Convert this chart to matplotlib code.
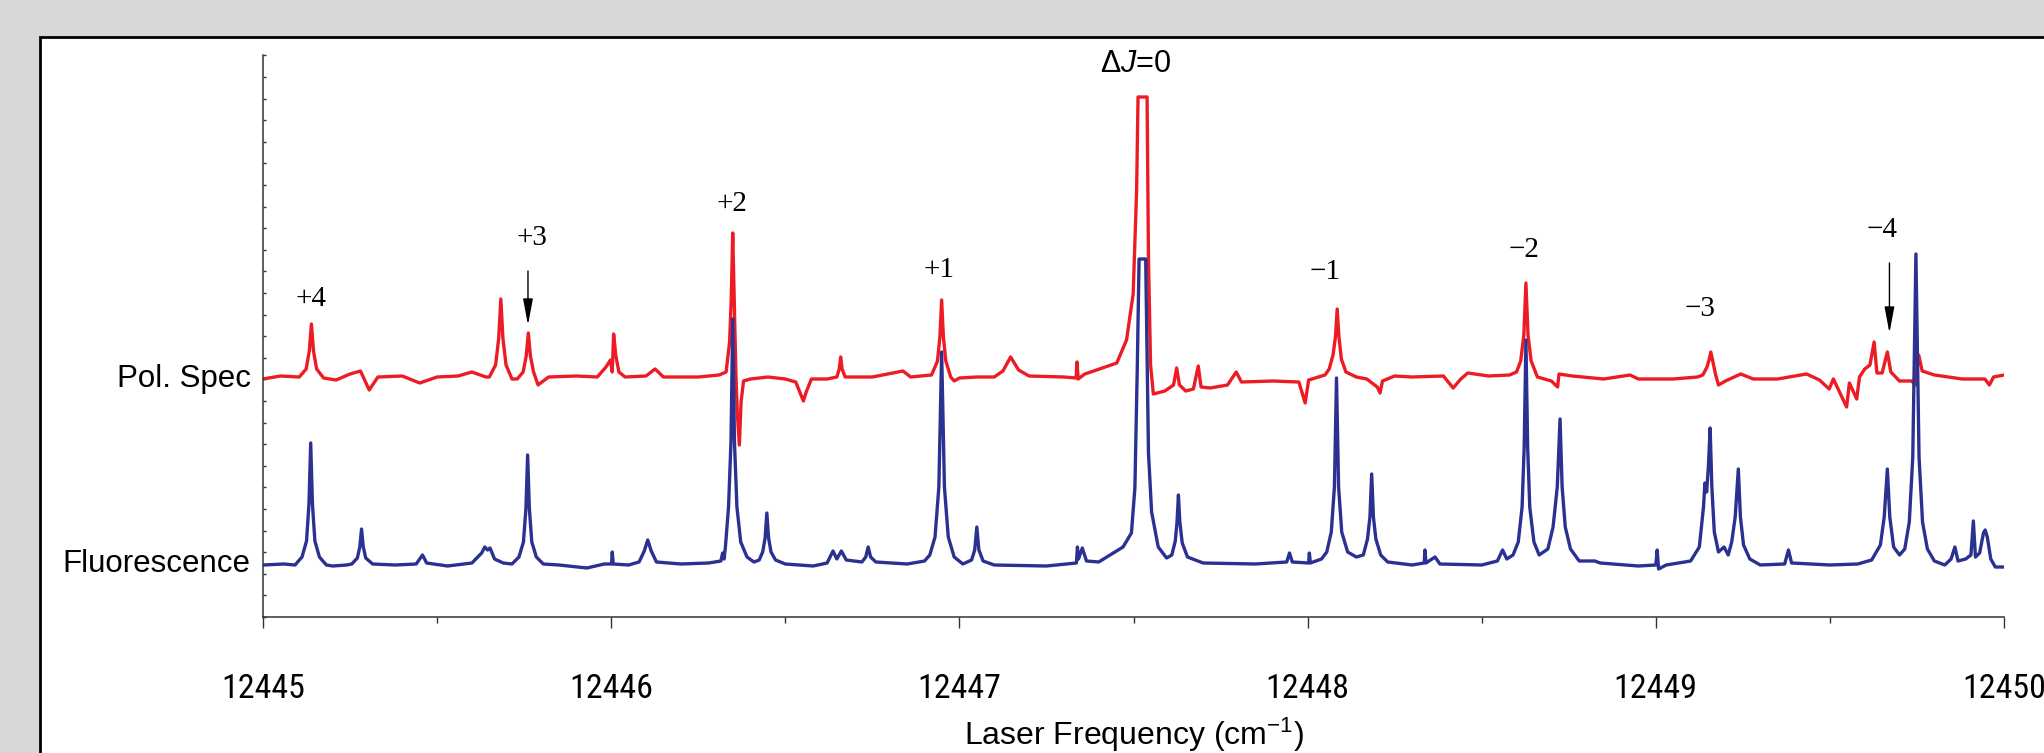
import numpy as np
import matplotlib.pyplot as plt
from matplotlib import font_manager
from matplotlib.patches import Rectangle
from matplotlib.ticker import MultipleLocator, FixedLocator

# traces: (laser frequency, signal in arbitrary units)
pol_points = [
    (12445.000, 238), (12445.050, 241), (12445.100, 240), (12445.104, 240),
    (12445.124, 248), (12445.133, 266), (12445.139, 293), (12445.145, 266),
    (12445.154, 248), (12445.174, 239), (12445.210, 237), (12445.250, 243),
    (12445.280, 246), (12445.305, 227), (12445.330, 240), (12445.400, 241),
    (12445.450, 234), (12445.500, 240), (12445.560, 241), (12445.600, 245),
    (12445.640, 240), (12445.650, 240), (12445.668, 252), (12445.677, 279),
    (12445.683, 318), (12445.689, 279), (12445.698, 252), (12445.715, 238),
    (12445.730, 238), (12445.747, 245), (12445.756, 261), (12445.762, 284),
    (12445.768, 261), (12445.777, 245), (12445.790, 232), (12445.820, 240),
    (12445.900, 241), (12445.960, 240), (12445.985, 250), (12445.998, 257),
    (12446.003, 245), (12446.007, 283), (12446.013, 262), (12446.022, 245),
    (12446.040, 240), (12446.100, 241), (12446.126, 248), (12446.150, 240),
    (12446.250, 240), (12446.310, 242), (12446.330, 245), (12446.340, 275),
    (12446.345, 320), (12446.349, 384), (12446.353, 320), (12446.358, 245),
    (12446.362, 205), (12446.368, 172), (12446.373, 215), (12446.380, 236),
    (12446.400, 238), (12446.450, 240), (12446.500, 238), (12446.530, 235),
    (12446.545, 222), (12446.552, 216), (12446.560, 225), (12446.575, 238),
    (12446.620, 238), (12446.648, 240), (12446.655, 248), (12446.659, 260),
    (12446.663, 248), (12446.672, 240), (12446.750, 240), (12446.838, 246),
    (12446.860, 240), (12446.920, 242), (12446.925, 246), (12446.937, 256),
    (12446.944, 280), (12446.949, 317), (12446.954, 280), (12446.961, 256),
    (12446.975, 240), (12446.985, 236), (12447.000, 239), (12447.050, 240),
    (12447.100, 240), (12447.125, 246), (12447.147, 260), (12447.170, 247),
    (12447.200, 241), (12447.300, 240), (12447.335, 239), (12447.338, 255),
    (12447.341, 238), (12447.360, 243), (12447.394, 247), (12447.452, 254),
    (12447.480, 277), (12447.499, 323), (12447.509, 427), (12447.513, 520),
    (12447.539, 520), (12447.543, 358), (12447.549, 252), (12447.557, 223),
    (12447.590, 226), (12447.615, 232), (12447.624, 249), (12447.632, 232),
    (12447.650, 226), (12447.672, 228), (12447.686, 251), (12447.694, 230),
    (12447.720, 229), (12447.770, 232), (12447.795, 245), (12447.810, 235),
    (12447.900, 236), (12447.975, 235), (12447.993, 214), (12448.003, 237),
    (12448.050, 242), (12448.062, 248), (12448.073, 262), (12448.080, 280),
    (12448.085, 308), (12448.090, 280), (12448.097, 258), (12448.110, 245),
    (12448.140, 240), (12448.170, 238), (12448.200, 230), (12448.208, 224),
    (12448.215, 236), (12448.250, 241), (12448.300, 240), (12448.390, 241),
    (12448.418, 229), (12448.440, 238), (12448.460, 244), (12448.520, 241),
    (12448.580, 242), (12448.600, 245), (12448.612, 256), (12448.621, 282),
    (12448.627, 334), (12448.633, 282), (12448.642, 256), (12448.660, 240),
    (12448.700, 236), (12448.718, 230), (12448.722, 243), (12448.760, 241),
    (12448.850, 238), (12448.926, 242), (12448.950, 238), (12449.050, 238),
    (12449.120, 240), (12449.135, 242), (12449.147, 250), (12449.153, 257),
    (12449.158, 265), (12449.164, 255), (12449.172, 242), (12449.180, 232),
    (12449.200, 236), (12449.244, 243), (12449.280, 238), (12449.350, 238),
    (12449.433, 243), (12449.470, 237), (12449.498, 228), (12449.510, 238),
    (12449.548, 210), (12449.556, 234), (12449.577, 218), (12449.585, 240),
    (12449.600, 248), (12449.615, 252), (12449.627, 275), (12449.635, 244),
    (12449.650, 244), (12449.665, 265), (12449.675, 245), (12449.700, 236),
    (12449.735, 236), (12449.745, 232), (12449.755, 262), (12449.765, 246),
    (12449.800, 242), (12449.880, 238), (12449.945, 238), (12449.958, 232),
    (12449.970, 240), (12450.000, 242),
]

flu_points = [
    (12445.000, 52), (12445.060, 53), (12445.092, 52), (12445.112, 60),
    (12445.125, 76), (12445.132, 113), (12445.137, 174), (12445.142, 113),
    (12445.149, 76), (12445.162, 60), (12445.182, 52), (12445.200, 51),
    (12445.240, 52), (12445.255, 53), (12445.271, 59), (12445.278, 70),
    (12445.283, 88), (12445.288, 70), (12445.295, 59), (12445.315, 53),
    (12445.380, 52), (12445.440, 53), (12445.458, 62), (12445.470, 54),
    (12445.530, 51), (12445.600, 54), (12445.628, 64), (12445.637, 70),
    (12445.645, 67), (12445.652, 69), (12445.665, 58), (12445.690, 54),
    (12445.715, 53), (12445.735, 60), (12445.748, 75), (12445.755, 108),
    (12445.760, 162), (12445.765, 108), (12445.772, 75), (12445.785, 60),
    (12445.805, 53), (12445.850, 52), (12445.930, 49), (12445.980, 53),
    (12446.001, 53), (12446.003, 65), (12446.006, 53), (12446.050, 52),
    (12446.080, 55), (12446.095, 66), (12446.105, 77), (12446.115, 66),
    (12446.130, 55), (12446.200, 53), (12446.280, 54), (12446.315, 56),
    (12446.320, 64), (12446.324, 58), (12446.328, 70), (12446.337, 110),
    (12446.344, 175), (12446.349, 298), (12446.354, 175), (12446.361, 110),
    (12446.372, 75), (12446.390, 60), (12446.410, 55), (12446.425, 57),
    (12446.435, 65), (12446.442, 79), (12446.447, 104), (12446.452, 79),
    (12446.459, 65), (12446.472, 57), (12446.500, 53), (12446.580, 51),
    (12446.620, 54), (12446.637, 66), (12446.648, 58), (12446.661, 66),
    (12446.675, 57), (12446.720, 55), (12446.731, 60), (12446.738, 70),
    (12446.745, 60), (12446.760, 55), (12446.850, 53), (12446.900, 56),
    (12446.915, 62), (12446.930, 80), (12446.941, 130), (12446.949, 265),
    (12446.957, 130), (12446.968, 80), (12446.985, 60), (12447.010, 53),
    (12447.035, 57), (12447.044, 67), (12447.050, 90), (12447.056, 67),
    (12447.068, 56), (12447.100, 52), (12447.250, 51), (12447.336, 54),
    (12447.339, 70), (12447.342, 58), (12447.353, 69), (12447.365, 56),
    (12447.400, 55), (12447.470, 70), (12447.494, 84), (12447.504, 129),
    (12447.511, 252), (12447.516, 358), (12447.535, 358), (12447.538, 287),
    (12447.543, 164), (12447.552, 105), (12447.571, 70), (12447.595, 59),
    (12447.610, 62), (12447.620, 76), (12447.625, 95), (12447.629, 122),
    (12447.633, 95), (12447.640, 74), (12447.655, 60), (12447.700, 54),
    (12447.850, 53), (12447.940, 55), (12447.948, 64), (12447.956, 55),
    (12448.003, 54), (12448.005, 64), (12448.008, 54), (12448.040, 58),
    (12448.055, 65), (12448.068, 85), (12448.077, 130), (12448.083, 239),
    (12448.089, 130), (12448.098, 85), (12448.115, 65), (12448.140, 60),
    (12448.160, 62), (12448.172, 78), (12448.179, 100), (12448.184, 143),
    (12448.189, 100), (12448.196, 78), (12448.210, 62), (12448.230, 55),
    (12448.300, 52), (12448.335, 54), (12448.337, 67), (12448.340, 54),
    (12448.366, 60), (12448.380, 53), (12448.500, 52), (12448.545, 56),
    (12448.560, 67), (12448.572, 58), (12448.590, 62), (12448.605, 75),
    (12448.616, 110), (12448.622, 170), (12448.627, 277), (12448.632, 170),
    (12448.638, 110), (12448.650, 75), (12448.665, 62), (12448.690, 68),
    (12448.705, 90), (12448.717, 130), (12448.725, 198), (12448.731, 130),
    (12448.740, 90), (12448.755, 68), (12448.780, 56), (12448.825, 56),
    (12448.840, 54), (12448.950, 51), (12449.000, 52), (12449.004, 67),
    (12449.008, 48), (12449.030, 52), (12449.100, 56), (12449.125, 70),
    (12449.137, 110), (12449.141, 134), (12449.146, 125), (12449.151, 150),
    (12449.156, 189), (12449.161, 130), (12449.168, 85), (12449.180, 65),
    (12449.196, 70), (12449.208, 62), (12449.218, 75), (12449.228, 100),
    (12449.237, 148), (12449.243, 100), (12449.252, 72), (12449.270, 58),
    (12449.300, 52), (12449.370, 53), (12449.381, 67), (12449.390, 54),
    (12449.500, 52), (12449.580, 53), (12449.620, 57), (12449.645, 72),
    (12449.656, 100), (12449.665, 148), (12449.672, 100), (12449.683, 70),
    (12449.700, 62), (12449.715, 68), (12449.728, 95), (12449.738, 160),
    (12449.747, 363), (12449.756, 160), (12449.766, 95), (12449.780, 68),
    (12449.800, 56), (12449.830, 52), (12449.848, 58), (12449.859, 70),
    (12449.868, 56), (12449.890, 58), (12449.905, 62), (12449.912, 96),
    (12449.918, 60), (12449.930, 64), (12449.941, 84), (12449.946, 87),
    (12449.952, 80), (12449.962, 58), (12449.975, 50), (12450.000, 50),
]

# branch labels
label_text = ['+4', '+3', '+2', '+1', '\u22121', '\u22122', '\u22123', '\u22124']
label_x = [12445.139, 12445.771, 12446.348, 12446.941, 12448.049, 12448.621, 12449.127, 12449.649]
label_y = [318, 379, 413, 347, 345, 367, 308, 387]
dj0_x, dj0_y = 12447.506, 553

# arrows: x, tail y, tip y
arrow_x = [12445.761, 12449.671]
arrow_tail = [346, 354]
arrow_tip = [292, 284]

trace_ticks = [57, 242]
trace_names = ['Fluorescence', 'Pol. Spec']
freq_ticks = [12445, 12446, 12447, 12448, 12449, 12450]
freq_labels = ['12445', '12446', '12447', '12448', '12449', '12450']

# tick numbers are set in a narrow face in the original; use one if present
fonts = font_manager.fontManager.ttflist
font_names = {f.name for f in fonts}
if 'Liberation Sans Narrow' in font_names:
    tick_kw = dict(fontfamily='Liberation Sans Narrow', fontsize=25)
elif 'Roboto Condensed' in font_names:
    tick_kw = dict(fontfamily='Roboto Condensed', fontsize=24.5)
else:
    tick_kw = dict(fontfamily='Liberation Sans', fontsize=21.5)

plt.rcParams['font.family'] = ['Liberation Sans', 'DejaVu Sans']
plt.rcParams['mathtext.fontset'] = 'custom'
plt.rcParams['mathtext.rm'] = 'Liberation Sans'
plt.rcParams['mathtext.it'] = 'Liberation Sans:italic'

W, H = 2044, 753
fig = plt.figure(figsize=(W / 100, H / 100), dpi=100, facecolor='#d8d8d8')
panel = Rectangle((40 / W, -0.1), 1.2, (H - 37) / H + 0.1,
                  transform=fig.transFigure, facecolor='white',
                  edgecolor='black', lw=2, zorder=-10)
fig.patches.append(panel)

ax = fig.add_axes([263 / W, 136 / H, 1741 / W, 562 / H])
ax.set_facecolor('none')

pol = np.array(pol_points).T
flu = np.array(flu_points).T
ax.plot(pol[0], pol[1], color='#ED1C24', lw=2.4, zorder=2)
ax.plot(flu[0], flu[1], color='#2B3190', lw=2.4, zorder=3)

ax.set_xlim(12445, 12450)
ax.set_ylim(0, 562)

for s in ['top', 'right']:
    ax.spines[s].set_visible(False)
for s in ['left', 'bottom']:
    ax.spines[s].set_color('#333333')
    ax.spines[s].set_linewidth(1.1)

ax.xaxis.set_major_locator(FixedLocator(freq_ticks))
ax.set_xticklabels(freq_labels, **tick_kw)
ax.xaxis.set_minor_locator(MultipleLocator(0.5))
ax.tick_params(axis='x', which='major', direction='out', length=8, width=1,
               color='#333333', pad=32)
ax.tick_params(axis='x', which='minor', direction='out', length=4, width=1,
               color='#333333')

ax.set_yticks(trace_ticks)
ax.set_yticklabels(trace_names, fontsize=22.5)
ax.yaxis.set_minor_locator(MultipleLocator(21.6))
ax.tick_params(axis='y', which='major', length=0, pad=9)
ax.tick_params(axis='y', which='minor', direction='in', length=2.5, width=1,
               color='#333333')

ax.set_xlabel('Laser Frequency (cm$^{-1}$)', fontsize=23)
ax.xaxis.set_label_coords(0.5, -0.21)
ax.xaxis.label.set_va('center')

for t, x, y in zip(label_text, label_x, label_y):
    ax.text(x, y, t, ha='center', va='center', fontfamily='Liberation Serif',
            fontsize=21, clip_on=False)
ax.text(dj0_x, dj0_y, r'$\Delta J$=0', ha='center', va='center', fontsize=22,
        clip_on=False)

for x, y0, y1 in zip(arrow_x, arrow_tail, arrow_tip):
    ax.annotate('', xy=(x, y1), xytext=(x, y0),
                arrowprops=dict(arrowstyle='-|>,head_length=0.8,head_width=0.15',
                                color='black', lw=1, mutation_scale=20,
                                shrinkA=0, shrinkB=0))

fig.savefig('out.png', dpi=100, facecolor=fig.get_facecolor())
